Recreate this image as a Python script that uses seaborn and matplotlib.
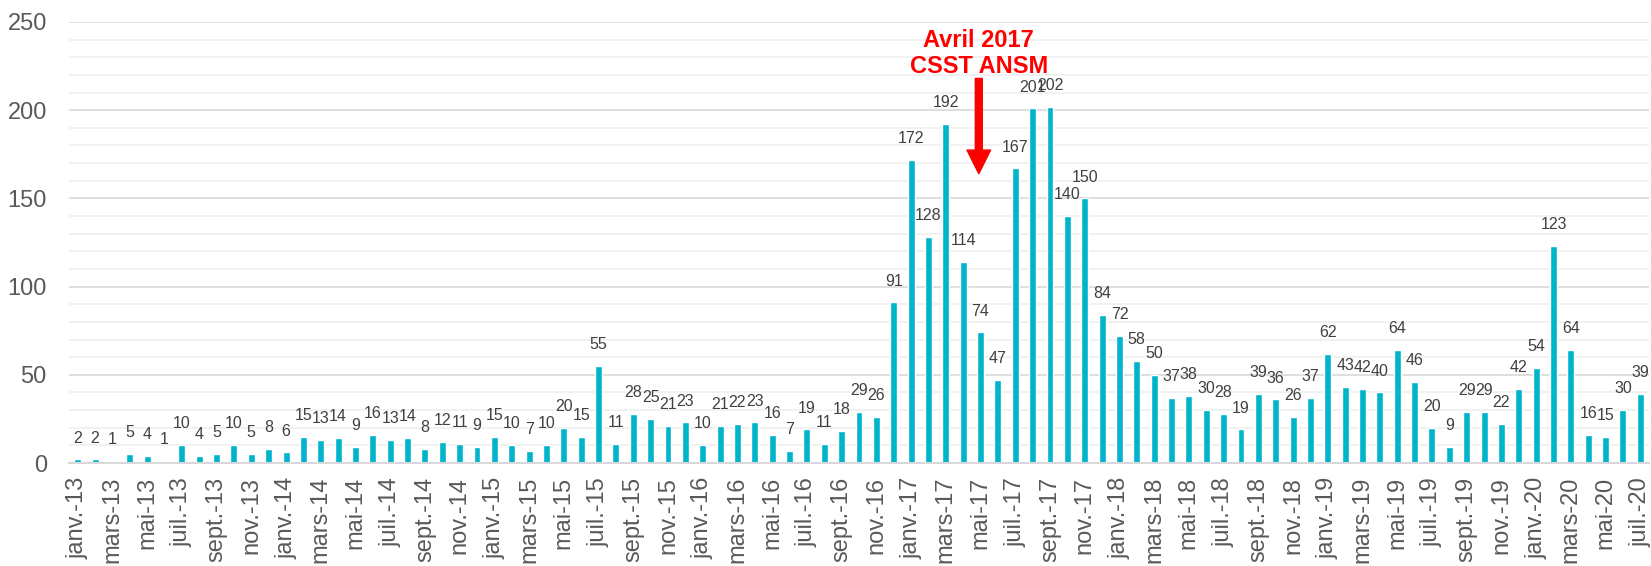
import numpy as np
import pandas as pd
import matplotlib
matplotlib.use("Agg")
import matplotlib.pyplot as plt
import seaborn as sns

months_fr = ["janv.", "févr.", "mars", "avr.", "mai", "juin",
             "juil.", "août", "sept.", "oct.", "nov.", "déc."]
years = ["13", "14", "15", "16", "17", "18", "19", "20"]

# valeurs mensuelles, janv.-13 -> juil.-20
v2013 = [2, 2, 1, 5, 4, 1, 10, 4, 5, 10, 5, 8]
v2014 = [6, 15, 13, 14, 9, 16, 13, 14, 8, 12, 11, 9]
v2015 = [15, 10, 7, 10, 20, 15, 55, 11, 28, 25, 21, 23]
v2016 = [10, 21, 22, 23, 16, 7, 19, 11, 18, 29, 26, 91]
v2017 = [172, 128, 192, 114, 74, 47, 167, 201, 202, 140, 150, 84]
v2018 = [72, 58, 50, 37, 38, 30, 28, 19, 39, 36, 26, 37]
v2019 = [62, 43, 42, 40, 64, 46, 20, 9, 29, 29, 22, 42]
v2020 = [54, 123, 64, 16, 15, 30, 39]

values = v2013 + v2014 + v2015 + v2016 + v2017 + v2018 + v2019 + v2020
labels = [f"{m}-{y}" for y in years for m in months_fr][:len(values)]

df = pd.DataFrame({"mois": labels, "n": values})

sns.set_style("white")
plt.rcParams['font.family'] = ['Liberation Sans', 'DejaVu Sans']

bar_color = "#00B4CC"
grey_txt = "#595959"

fig = plt.figure(figsize=(16.51, 5.66), dpi=100)
ax = fig.add_axes([69 / 1651, 1 - 463 / 566, 1580 / 1651, 441 / 566])

sns.barplot(data=df, x="mois", y="n", color=bar_color, width=0.4,
            saturation=1, ax=ax)

ax.bar_label(ax.containers[0], labels=[str(v) for v in values],
             padding=10, fontsize=11.5, color="#404040")

ax.set_ylim(0, 250)
ax.set_xlim(-0.5, len(values) - 0.5)
ax.set_yticks(range(0, 251, 50))
ax.set_yticks(range(0, 251, 10), minor=True)
ax.grid(axis="y", which="major", color="#D9D9D9", linewidth=1.2)
ax.grid(axis="y", which="minor", color="#EFEFEF", linewidth=1.2)
ax.set_axisbelow(True)

ax.set_xticks(range(0, len(values), 2))
ax.set_xticklabels(labels[::2], rotation=90)
ax.tick_params(axis="both", length=0, labelsize=17, labelcolor=grey_txt)
ax.tick_params(axis="y", pad=16)
ax.tick_params(axis="x", pad=10)
ax.set_xlabel("")
ax.set_ylabel("")

for s in ["top", "right", "left"]:
    ax.spines[s].set_visible(False)
ax.spines["bottom"].set_color("#D9D9D9")
ax.spines["bottom"].set_linewidth(1.5)

# annotation avril 2017
ax.annotate("", xy=(51.9, 164), xytext=(51.9, 218),
            arrowprops=dict(facecolor="red", edgecolor="red", width=5,
                            headwidth=17, headlength=17))
ax.text(51.9, 232, "Avril 2017\nCSST ANSM", ha="center", va="center",
        color="red", fontsize=17, fontweight="bold", linespacing=1.15)

fig.savefig("out.png", dpi=100)
